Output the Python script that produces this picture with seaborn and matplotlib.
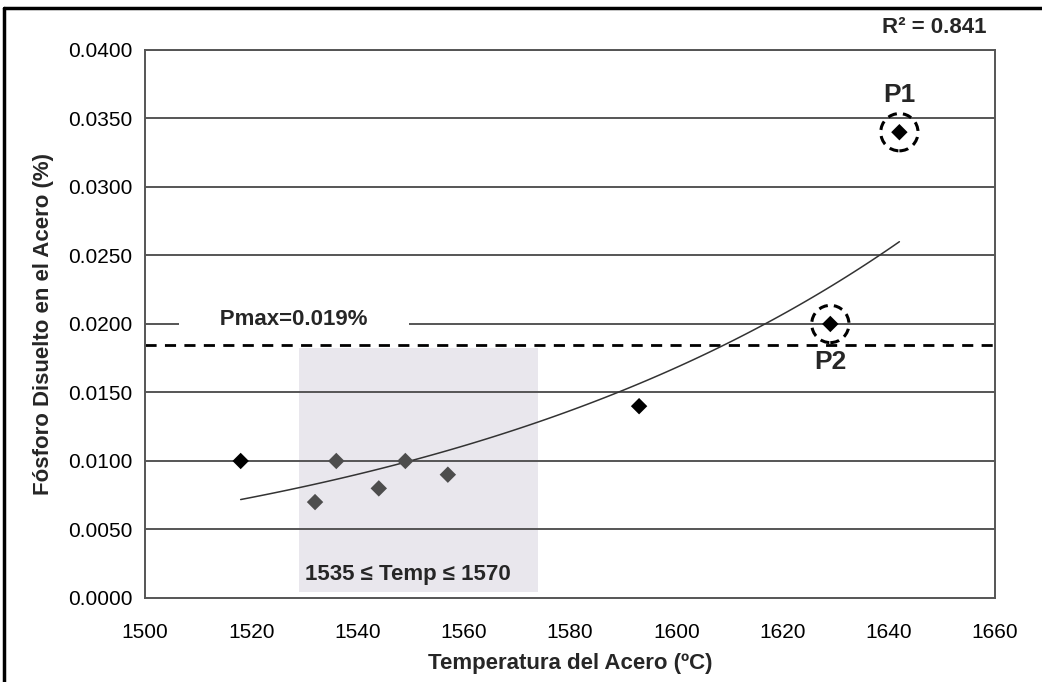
import numpy as np
import pandas as pd
import seaborn as sns
import matplotlib.pyplot as plt
from matplotlib.lines import Line2D
from matplotlib.patches import Rectangle

temp = [1518, 1532, 1536, 1544, 1549, 1557, 1593, 1629, 1642]
fosforo = [0.0100, 0.0070, 0.0100, 0.0080, 0.0100, 0.0090, 0.0140, 0.0200, 0.0340]
in_range = [False, True, True, True, True, True, False, False, False]
pmax_line = 0.0185
box_x = (1529, 1574)
box_y = (0.0004, 0.01825)
marked = {"P1": (1642, 0.0340), "P2": (1629, 0.0200)}

df = pd.DataFrame({"temp": temp, "P": fosforo, "rango": in_range})

# exponential trend (Excel-style): ln(y) = a + b x
b, a = np.polyfit(df["temp"], np.log(df["P"]), 1)
xs = np.linspace(min(temp), max(temp), 100)
trend = pd.DataFrame({"temp": xs, "P": np.exp(a + b * xs)})

sns.set_style("white")
plt.rcParams['font.family'] = ['Liberation Sans', 'DejaVu Sans']

fig = plt.figure(figsize=(10.42, 6.82), dpi=100)
ax = fig.add_axes([0.1392, 0.1232, 0.8157, 0.8035])

ax.add_patch(Rectangle((box_x[0], box_y[0]), box_x[1] - box_x[0], box_y[1] - box_y[0],
                       facecolor="#e9e7ed", edgecolor="none", zorder=0))
for yv in np.arange(0.005, 0.0401, 0.005):
    ax.axhline(yv, color="#555555", lw=1.4, zorder=1)
ax.axhline(pmax_line, color="black", lw=2, ls=(0, (4, 3)), zorder=2)

sns.lineplot(data=trend, x="temp", y="P", color="#333333", lw=1.1, ax=ax, zorder=3)
sns.scatterplot(data=df, x="temp", y="P", hue="rango", palette={False: "black", True: "#4d4d4d"},
                marker="D", s=70, edgecolor="none", legend=False, ax=ax, zorder=4)

for name, (px, py) in marked.items():
    ax.scatter(px, py, s=720, facecolors="none", edgecolors="black", linewidths=2.2,
               linestyle=(0, (3, 2)), zorder=5)
    off = 0.0027 if name == "P1" else -0.0028
    ax.text(px, py + off, name, ha="center", va="center", fontsize=19, fontweight="bold")

ax.text(1528, 0.0203, "      Pmax=0.019%      ", ha="center", va="center", fontsize=16,
        fontweight="bold", bbox=dict(facecolor="white", edgecolor="none", boxstyle="square,pad=0.2"),
        zorder=6)
ax.text(1549.5, 0.0017, "1535 \u2264 Temp \u2264 1570", ha="center", va="center",
        fontsize=16, fontweight="bold", zorder=6)

ax.set_xlim(1500, 1660)
ax.set_ylim(0, 0.04)
ax.set_xticks(range(1500, 1661, 20))
ax.set_yticks(np.arange(0, 0.0401, 0.005))
ax.set_yticklabels([f"{v:.4f}" for v in np.arange(0, 0.0401, 0.005)])
ax.tick_params(axis="both", labelsize=15, colors="#555555", labelcolor="black", width=1.2)
ax.tick_params(axis="y", direction="inout", length=8, pad=5)
ax.tick_params(axis="x", direction="out", length=6, pad=12)
for sp in ax.spines.values():
    sp.set_color("#555555")
    sp.set_linewidth(1.4)

ax.set_xlabel("Temperatura del Acero (ºC)", fontsize=16, fontweight="bold", labelpad=8)
ax.set_ylabel("Fósforo Disuelto en el Acero (%)", fontsize=16, fontweight="bold", labelpad=10)

fig.text(0.897, 0.96, "R² = 0.841", ha="center", va="center", fontsize=16, fontweight="bold")

# outer frame (left and top)
fig.add_artist(Line2D([0.004, 0.004], [0, 0.988], color="black", lw=2.5))
fig.add_artist(Line2D([0.004, 1.0], [0.988, 0.988], color="black", lw=2.5))

fig.savefig("out.png", dpi=100)
